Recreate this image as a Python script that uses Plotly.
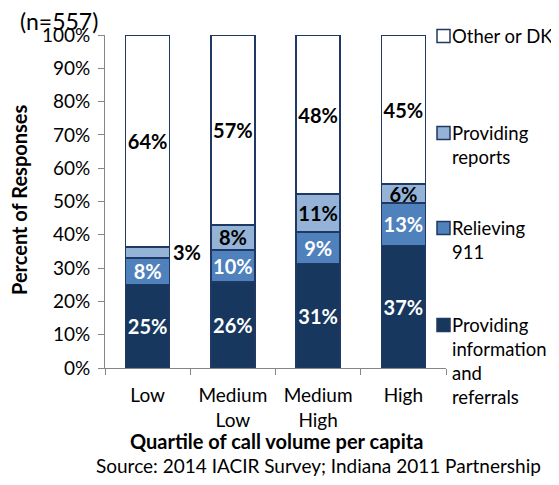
import plotly.graph_objects as go

# ---------------- data ----------------
categories = ["Low", "Medium<br>Low", "Medium<br>High", "High"]
series_names = ["Providing information and referrals", "Relieving 911",
                "Providing reports", "Other or DK"]
legend_labels = ["Providing<br>information<br>and<br>referrals", "Relieving<br>911",
                 "Providing<br>reports", "Other or DK"]
info_referrals = [25.1, 25.8, 31.4, 36.8]
relieving_911 = [8.0, 9.6, 9.4, 12.8]
providing_reports = [3.2, 7.6, 11.4, 5.6]
other_dk = [63.7, 57.0, 47.8, 44.8]
y_tick_values = [0, 10, 20, 30, 40, 50, 60, 70, 80, 90, 100]
y_tick_labels = ["0%", "10%", "20%", "30%", "40%", "50%", "60%", "70%",
                 "80%", "90%", "100%"]
sample_note = "(n=557)"
x_title = "Quartile of call volume per capita"
y_title = "Percent of Responses"
source_note = "Source: 2014 IACIR Survey; Indiana 2011 Partnership"

# ---------------- styles ----------------
FONT = "Lato"
NAVY = "#1F3864"
fills = ["#17375E", "#4F81BD", "#95B3D7", "#FFFFFF"]
label_colors = ["#FFFFFF", "#FFFFFF", "#000000", "#000000"]
series_values = [info_referrals, relieving_911, providing_reports, other_dk]

OFF = 8                      # default body margin of the html page
WIN_W, WIN_H = 559, 485
W, H = WIN_W - 2 * OFF, WIN_H - 2 * OFF   # no page overflow
PL, PR, PT, PB = 105, 446, 35, 368        # plot area in window pixels
ML, MT = PL - OFF, PT - OFF
PW, PH = PR - PL, PB - PT
MR, MB = W - ML - PW, H - MT - PH


def px_x(px):
    return (px - PL) / PW


def px_y(py):
    return (PB - py) / PH


SMALL = 4.0  # segments thinner than this get an outside label

fig = go.Figure()
annotations = []
cum = [0.0] * len(categories)
for i, (name, vals) in enumerate(zip(series_names, series_values)):
    texts = []
    for j, v in enumerate(vals):
        lab = f"{round(v)}%"
        if v < SMALL:
            texts.append("")
            annotations.append(dict(
                x=categories[j], y=cum[j] + v / 2, xref="x", yref="y",
                text=f"<b>{lab}</b>", showarrow=False, xanchor="left",
                yanchor="middle", xshift=23,
                font=dict(family=FONT, size=20, color="#000000")))
        else:
            texts.append(f"<b>{lab}</b>")
        cum[j] += v
    fig.add_trace(go.Bar(
        x=categories, y=vals, name=name, text=texts,
        textposition="inside", insidetextanchor="middle", constraintext="none",
        textangle=0,
        textfont=dict(family=FONT, size=20, color=label_colors[i]),
        marker=dict(color=fills[i], line=dict(color=NAVY, width=1.5)),
        hoverinfo="skip",
    ))

# legend built manually (Excel-style spread layout)
legend_centers = [325, 228, 133, 36]  # first-line centre, window pixels
shapes = []
for i, lab in enumerate(legend_labels):
    cy = legend_centers[i]
    shapes.append(dict(
        type="rect", xref="paper", yref="paper",
        xsizemode="pixel", ysizemode="pixel",
        xanchor=px_x(443.5), yanchor=px_y(cy),
        x0=-6.5, x1=6.5, y0=-6.5, y1=6.5,
        fillcolor=fills[i], line=dict(color=NAVY, width=1.5)))
    annotations.append(dict(
        x=px_x(450), y=px_y(cy - 13), xref="paper", yref="paper",
        text=lab, showarrow=False, xanchor="left", yanchor="top",
        align="left", font=dict(family=FONT, size=18.5, color="#000000")))

annotations += [
    dict(x=px_x(59), y=px_y(21), xref="paper", yref="paper", text=sample_note,
         showarrow=False, xanchor="center", yanchor="middle",
         font=dict(family=FONT, size=23, color="#000000")),
    dict(x=px_x(19), y=px_y(200), xref="paper", yref="paper",
         text=f"<b>{y_title}</b>", textangle=-90, showarrow=False,
         xanchor="center", yanchor="middle",
         font=dict(family=FONT, size=20, color="#000000")),
    dict(x=px_x(276), y=px_y(441), xref="paper", yref="paper",
         text=f"<b>{x_title}</b>", showarrow=False,
         xanchor="center", yanchor="middle",
         font=dict(family=FONT, size=20, color="#000000")),
    dict(x=px_x(318), y=px_y(465), xref="paper", yref="paper",
         text=source_note, showarrow=False,
         xanchor="center", yanchor="middle",
         font=dict(family=FONT, size=19, color="#000000")),
]

fig.update_layout(
    width=W, height=H,
    margin=dict(l=ML, r=MR, t=MT, b=MB, pad=0, autoexpand=False),
    barmode="stack", bargap=0.484,
    showlegend=False,
    plot_bgcolor="#FFFFFF", paper_bgcolor="#FFFFFF",
    font=dict(family=FONT, size=19, color="#000000"),
    shapes=shapes, annotations=annotations,
    xaxis=dict(showline=True, linecolor="#868686", linewidth=1,
               ticks="outside", tickson="boundaries", ticklen=6,
               tickcolor="#868686", showgrid=False, zeroline=False,
               ticklabelstandoff=10,
               tickfont=dict(family=FONT, size=19, color="#000000")),
    yaxis=dict(range=[0, 100], tickmode="array", tickvals=y_tick_values,
               ticktext=y_tick_labels,
               showline=True, linecolor="#868686", linewidth=1,
               ticks="outside", ticklen=6, tickcolor="#868686",
               showgrid=False, zeroline=False, ticklabelstandoff=4,
               tickfont=dict(family=FONT, size=19, color="#000000")),
)

fig.write_html("out.html")
